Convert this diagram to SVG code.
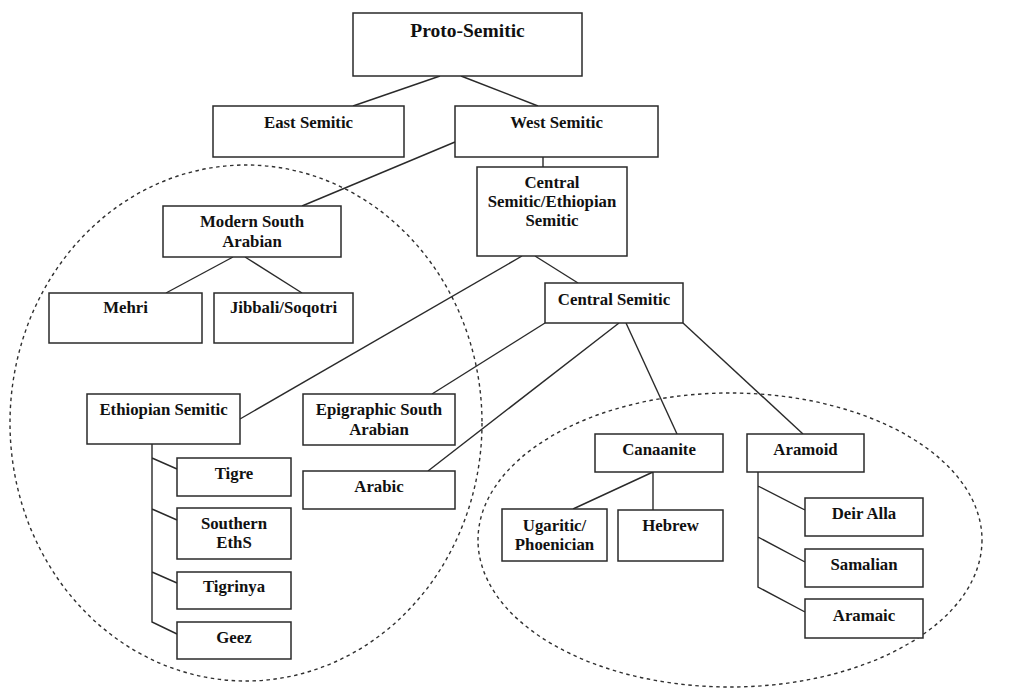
<svg xmlns="http://www.w3.org/2000/svg" width="1028" height="690" viewBox="0 0 1028 690">
  <style>
    .box { fill: #ffffff; stroke: #2a2a2a; stroke-width: 1.5; }
    .lbl { font-family: "Liberation Serif", "Times New Roman", serif; font-weight: bold; font-size: 16.8px; fill: #111111; text-anchor: middle; }
    .big { font-size: 19.5px; }
    .edge { fill: none; stroke: #2a2a2a; stroke-width: 1.4; }
    .cluster { fill: none; stroke: #303030; stroke-width: 1.4; stroke-dasharray: 3.5 3.5; }
  </style>
  <rect width="1028" height="690" fill="#ffffff"/>

  <!-- dashed groupings -->
  <g id="clusters">
    <ellipse class="cluster" cx="246" cy="423" rx="236" ry="258"/>
    <ellipse class="cluster" cx="730" cy="540" rx="252" ry="147"/>
  </g>

  <!-- connectors -->
  <g id="connectors">
    <path class="edge" d="M440 76 L353 106"/>
    <path class="edge" d="M461 76 L538 106"/>
    <path class="edge" d="M455 142 L302 206"/>
    <path class="edge" d="M543 157 V167"/>
    <path class="edge" d="M233 257 L166 293"/>
    <path class="edge" d="M245 257 L302 293"/>
    <path class="edge" d="M522 256 L240 419"/>
    <path class="edge" d="M535 256 L578 283"/>
    <path class="edge" d="M545 323 L432 394"/>
    <path class="edge" d="M619 323 L428 471"/>
    <path class="edge" d="M626 323 L677 434"/>
    <path class="edge" d="M683 323 L803 434"/>
    <path class="edge" d="M152 444 V622 L177 634 M152 458 L177 469 M152 509 L177 520 M152 572 L177 583"/>
    <path class="edge" d="M653 472 L573 509 M653 472 V510"/>
    <path class="edge" d="M758 472 V587 L805 612 M758 486 L805 510 M758 537 L805 562"/>
  </g>

  <g id="proto-semitic">
    <rect class="box" x="353" y="13" width="229" height="63"/>
    <text class="lbl big" x="467.5" y="37">Proto-Semitic</text>
  </g>
  <g id="east-semitic">
    <rect class="box" x="213" y="106" width="191" height="51"/>
    <text class="lbl" x="308.5" y="128">East Semitic</text>
  </g>
  <g id="west-semitic">
    <rect class="box" x="455" y="106" width="203" height="51"/>
    <text class="lbl" x="556.5" y="128">West Semitic</text>
  </g>
  <g id="central-ethiopian-semitic">
    <rect class="box" x="477" y="167" width="150" height="89"/>
    <text class="lbl" x="552" y="188">Central</text>
    <text class="lbl" x="552" y="207">Semitic/Ethiopian</text>
    <text class="lbl" x="552" y="226">Semitic</text>
  </g>
  <g id="modern-south-arabian">
    <rect class="box" x="163" y="206" width="178" height="51"/>
    <text class="lbl" x="252" y="227">Modern South</text>
    <text class="lbl" x="252" y="247">Arabian</text>
  </g>
  <g id="mehri">
    <rect class="box" x="49" y="293" width="153" height="50"/>
    <text class="lbl" x="125.5" y="313">Mehri</text>
  </g>
  <g id="jibbali-soqotri">
    <rect class="box" x="214" y="293" width="139" height="50"/>
    <text class="lbl" x="283.5" y="313">Jibbali/Soqotri</text>
  </g>
  <g id="central-semitic">
    <rect class="box" x="545" y="283" width="138" height="40"/>
    <text class="lbl" x="614" y="305">Central Semitic</text>
  </g>
  <g id="ethiopian-semitic">
    <rect class="box" x="87" y="394" width="153" height="50"/>
    <text class="lbl" x="163.5" y="415">Ethiopian Semitic</text>
  </g>
  <g id="epigraphic-south-arabian">
    <rect class="box" x="303" y="394" width="152" height="51"/>
    <text class="lbl" x="379" y="415">Epigraphic South</text>
    <text class="lbl" x="379" y="435">Arabian</text>
  </g>
  <g id="arabic">
    <rect class="box" x="303" y="471" width="152" height="38"/>
    <text class="lbl" x="379" y="492">Arabic</text>
  </g>
  <g id="tigre">
    <rect class="box" x="177" y="458" width="114" height="38"/>
    <text class="lbl" x="234" y="479">Tigre</text>
  </g>
  <g id="southern-eths">
    <rect class="box" x="177" y="508" width="114" height="51"/>
    <text class="lbl" x="234" y="529">Southern</text>
    <text class="lbl" x="234" y="548">EthS</text>
  </g>
  <g id="tigrinya">
    <rect class="box" x="177" y="572" width="114" height="37"/>
    <text class="lbl" x="234" y="592">Tigrinya</text>
  </g>
  <g id="geez">
    <rect class="box" x="177" y="622" width="114" height="37"/>
    <text class="lbl" x="234" y="643">Geez</text>
  </g>
  <g id="canaanite">
    <rect class="box" x="595" y="434" width="128" height="38"/>
    <text class="lbl" x="659" y="455">Canaanite</text>
  </g>
  <g id="aramoid">
    <rect class="box" x="747" y="434" width="117" height="38"/>
    <text class="lbl" x="805.5" y="455">Aramoid</text>
  </g>
  <g id="ugaritic-phoenician">
    <rect class="box" x="502" y="509" width="105" height="52"/>
    <text class="lbl" x="554.5" y="531">Ugaritic/</text>
    <text class="lbl" x="554.5" y="550">Phoenician</text>
  </g>
  <g id="hebrew">
    <rect class="box" x="618" y="510" width="105" height="51"/>
    <text class="lbl" x="670.5" y="531">Hebrew</text>
  </g>
  <g id="deir-alla">
    <rect class="box" x="805" y="498" width="118" height="38"/>
    <text class="lbl" x="864" y="519">Deir Alla</text>
  </g>
  <g id="samalian">
    <rect class="box" x="805" y="549" width="118" height="38"/>
    <text class="lbl" x="864" y="570">Samalian</text>
  </g>
  <g id="aramaic">
    <rect class="box" x="805" y="599" width="118" height="39"/>
    <text class="lbl" x="864" y="621">Aramaic</text>
  </g>
</svg>
